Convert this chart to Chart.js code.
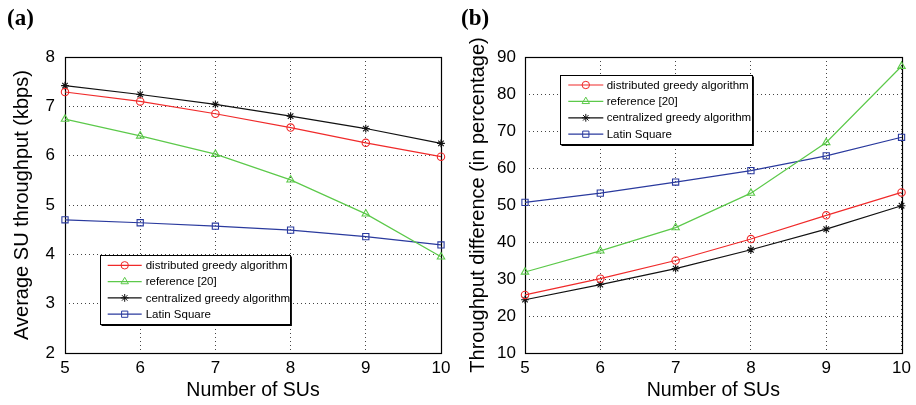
<!DOCTYPE html>
<html><head><meta charset="utf-8">
<script src="https://cdn.jsdelivr.net/npm/chart.js@4.4.0/dist/chart.umd.min.js"></script>
<style>
html,body{margin:0;padding:0;background:#fff;}
#wrap{position:relative;width:916px;height:405px;overflow:hidden;}
canvas{position:absolute;top:0;}
#ca{left:0}
#cb{left:458px}
</style></head><body>
<div id="wrap"><canvas id="ca" width="458" height="405"></canvas><canvas id="cb" width="458" height="405"></canvas></div>
<script>
// ---- data ----
const suCounts = [5, 6, 7, 8, 9, 10];
const seriesNames = ['distributed greedy algorithm', 'reference [20]', 'centralized greedy algorithm', 'Latin Square'];
// panel (a): average SU throughput (kbps)
const throughputDistributed = [7.29, 7.10, 6.85, 6.57, 6.26, 5.98];
const throughputReference   = [6.74, 6.40, 6.03, 5.51, 4.82, 3.95];
const throughputCentralized = [7.42, 7.24, 7.04, 6.80, 6.55, 6.25];
const throughputLatin       = [4.70, 4.64, 4.57, 4.49, 4.36, 4.19];
// panel (b): throughput difference (%)
const diffDistributed = [25.7, 30.1, 35.0, 40.8, 47.2, 53.4];
const diffReference   = [31.9, 37.6, 43.9, 53.2, 66.9, 87.5];
const diffCentralized = [24.4, 28.5, 32.8, 37.9, 43.5, 49.8];
const diffLatin       = [50.7, 53.2, 56.2, 59.3, 63.3, 68.3];
// tick labels
const yTicksA = [2, 3, 4, 5, 6, 7, 8];
const yTicksB = [10, 20, 30, 40, 50, 60, 70, 80, 90];

// ---- styles ----
const SANS = '"Liberation Sans", Arial, Helvetica, sans-serif';
const styles = [
  {color: '#f02a2a', pointStyle: 'circle',   radius: 3.7},
  {color: '#5cc94a', pointStyle: 'triangle', radius: 4.3},
  {color: '#111111', pointStyle: 'star',     radius: 3.9},
  {color: '#2a3a9e', pointStyle: 'rect',     radius: 4.4}
];

const decor = {
  id: 'decor',
  beforeDatasetsDraw(chart, args, o) {
    const {ctx, chartArea: a} = chart;
    ctx.save();
    ctx.strokeStyle = '#000';
    ctx.lineWidth = 1.2;
    const l = Math.round(a.left) + 0.5, t = Math.round(a.top) + 0.5;
    const r = Math.round(a.right) + 0.5, b = Math.round(a.bottom) + 0.5;
    ctx.strokeRect(l, t, r - l, b - t);
    ctx.restore();
  },
  afterDatasetsDraw(chart, args, o) {
    const {ctx} = chart;
    const lg = o.legend;
    ctx.save();
    ctx.fillStyle = '#fff';
    ctx.fillRect(lg.x, lg.y, lg.w, lg.h);
    ctx.strokeStyle = '#000';
    ctx.lineWidth = 1;
    ctx.strokeRect(lg.x + 0.5, lg.y + 0.5, lg.w, lg.h);
    ctx.lineWidth = 1.4;
    ctx.beginPath();
    ctx.moveTo(lg.x + lg.w + 1.2, lg.y + 1.5); ctx.lineTo(lg.x + lg.w + 1.2, lg.y + lg.h + 1.2); ctx.lineTo(lg.x + 1.5, lg.y + lg.h + 1.2);
    ctx.stroke();
    ctx.font = '11.5px ' + SANS;
    ctx.textBaseline = 'middle';
    ctx.textAlign = 'left';
    chart.data.datasets.forEach((ds, i) => {
      const cy = lg.y + lg.first + i * lg.step;
      ctx.strokeStyle = ds.borderColor;
      ctx.lineWidth = 1.2;
      ctx.beginPath();
      ctx.moveTo(lg.x + lg.l1, cy); ctx.lineTo(lg.x + lg.l2, cy);
      ctx.stroke();
      ctx.fillStyle = 'rgba(0,0,0,0)';
      ctx.lineWidth = 1;
      Chart.helpers.drawPoint(ctx, {pointStyle: ds.pointStyle, radius: ds.pointRadius, rotation: 0, borderWidth: 1}, lg.x + (lg.l1 + lg.l2) / 2, cy);
      ctx.fillStyle = '#000';
      ctx.fillText(ds.label, lg.x + lg.tx, cy + 0.5);
    });
    ctx.restore();
  },
  afterDraw(chart, args, o) {
    const {ctx, chartArea: a} = chart;
    ctx.save();
    ctx.translate(o.yTitleX, (a.top + a.bottom) / 2);
    ctx.rotate(-Math.PI / 2);
    ctx.font = '20px ' + SANS;
    ctx.fillStyle = '#000';
    ctx.textAlign = 'center';
    ctx.textBaseline = 'middle';
    ctx.fillText(o.yTitle, 0, 0);
    ctx.restore();
  }
};

function makeChart(id, cfg) {
  return new Chart(document.getElementById(id), {
    type: 'line',
    data: {
      labels: suCounts,
      datasets: cfg.series.map((d, i) => ({
        label: seriesNames[i],
        data: d,
        borderColor: styles[i].color,
        backgroundColor: 'rgba(0,0,0,0)',
        borderWidth: 1.2,
        pointStyle: styles[i].pointStyle,
        pointRadius: styles[i].radius,
        pointBorderColor: styles[i].color,
        pointBackgroundColor: 'rgba(0,0,0,0)',
        pointBorderWidth: 1.1,
        tension: 0,
        fill: false
      }))
    },
    plugins: [decor],
    options: {
      responsive: false,
      animation: false,
      devicePixelRatio: 1,
      layout: {padding: {left: cfg.padL, right: cfg.padR, top: 0, bottom: 0}},
      plugins: {
        legend: {display: false},
        tooltip: {enabled: false},
        title: {
          display: true, text: cfg.label, align: 'start', color: '#000',
          font: {family: '"Liberation Serif", "Times New Roman", serif', size: 23, weight: 'bold'},
          padding: {top: 5, bottom: 24.4}
        },
        decor: {legend: cfg.legend, yTitle: cfg.yTitle, yTitleX: cfg.yTitleX}
      },
      scales: {
        x: {
          type: 'category',
          offset: false,
          afterFit(s) { s.height = 52; },
          grid: {color: '#444', lineWidth: 1, drawTicks: false},
          border: {display: false, dash: [1, 3]},
          ticks: {color: '#000', font: {family: SANS, size: 17}, padding: 5, autoSkip: false, maxRotation: 0},
          title: {display: true, text: 'Number of SUs', color: '#000', font: {family: SANS, size: 19.5}, padding: {top: 0, bottom: 3}}
        },
        y: {
          type: 'linear',
          min: cfg.ticks[0],
          max: cfg.ticks[cfg.ticks.length - 1],
          afterFit(s) { s.width = cfg.yW; },
          afterBuildTicks(s) { s.ticks = cfg.ticks.map(v => ({value: v})); },
          grid: {color: '#444', lineWidth: 1, drawTicks: false},
          border: {display: false, dash: [1, 3]},
          ticks: {color: '#000', font: {family: SANS, size: 17}, padding: cfg.tickPad}
        }
      }
    }
  });
}

makeChart('ca', {
  label: '(a)',
  series: [throughputDistributed, throughputReference, throughputCentralized, throughputLatin],
  ticks: yTicksA,
  padL: 7, padR: 17, yW: 58, tickPad: 10,
  yTitle: 'Average SU throughput (kbps)', yTitleX: 22,
  legend: {x: 100, y: 255, w: 190, h: 69, first: 10.3, step: 16.3, l1: 7.7, l2: 41.7, tx: 45.7}
});
makeChart('cb', {
  label: '(b)',
  series: [diffDistributed, diffReference, diffCentralized, diffLatin],
  ticks: yTicksB,
  padL: 3, padR: 14, yW: 64, tickPad: 9,
  yTitle: 'Throughput difference (in percentage)', yTitleX: 20,
  legend: {x: 102, y: 75, w: 192, h: 69, first: 10, step: 16.4, l1: 8.3, l2: 43.3, tx: 46.7}
});
</script>
</body></html>
